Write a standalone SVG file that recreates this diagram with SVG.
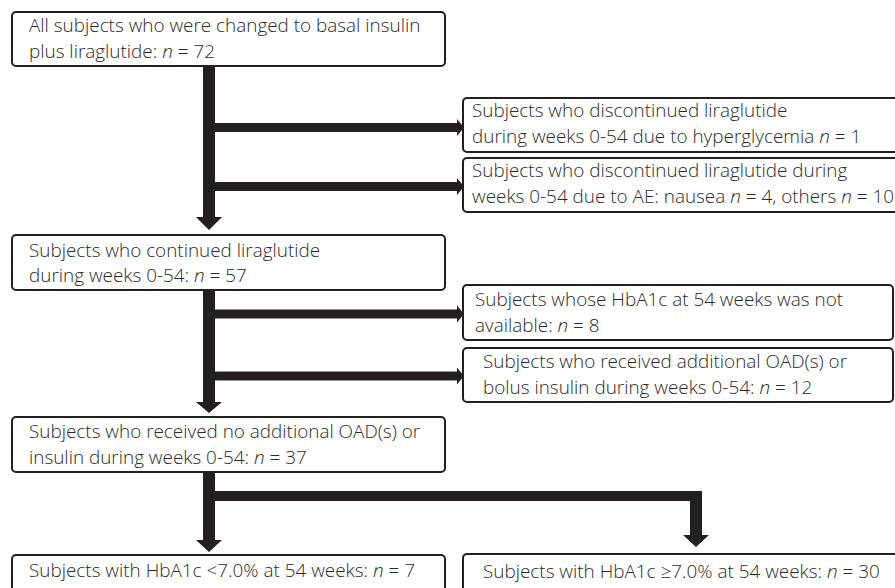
<svg xmlns="http://www.w3.org/2000/svg" width="895" height="588" viewBox="0 0 895 588">
<style>
.box{fill:#fff;stroke:#231f20;stroke-width:2}
.t{font-family:"Open Sans","Noto Sans","Liberation Sans",sans-serif;font-size:18.9px;font-weight:300;fill:#2a2a2a}
.i{font-style:italic}
.c{fill:#231f20}
</style>
<rect width="895" height="588" fill="#fff"/>
<g id="connectors">
<path class="c" d="M203,66H215V217H222L209,230L196,217H203Z"/>
<rect class="c" x="215" y="123" width="242" height="9"/>
<path class="c" d="M457,119L464,127.5L457,136Z"/>
<rect class="c" x="215" y="182" width="242" height="9"/>
<path class="c" d="M457,178L464,186.5L457,195Z"/>
<path class="c" d="M203,290H215V402H222L209,413L196,402H203Z"/>
<rect class="c" x="215" y="309.5" width="242" height="9"/>
<path class="c" d="M457,305.5L464,314L457,322.5Z"/>
<rect class="c" x="215" y="371.5" width="242" height="9"/>
<path class="c" d="M457,367.5L464,376L457,384.5Z"/>
<path class="c" d="M203,472H215V540H222L209,552L196,540H203Z"/>
<path class="c" d="M215,491H702V535H709L696,547L683,535H690V501H215Z"/>
</g>
<g id="n1">
<rect class="box" x="12" y="12" width="433" height="54" rx="4"/>
<text class="t" x="29" y="32">All subjects who were changed to basal insulin</text>
<text class="t" x="29" y="58">plus liraglutide: <tspan class="i">n</tspan> = 72</text>
</g>
<g id="n2">
<rect class="box" x="463" y="98" width="440" height="54" rx="4"/>
<text class="t" x="472" y="117">Subjects who discontinued liraglutide</text>
<text class="t" x="472" y="143">during weeks 0-54 due to hyperglycemia <tspan class="i">n</tspan> = 1</text>
</g>
<g id="n3">
<rect class="box" x="463" y="158" width="440" height="54" rx="4"/>
<text class="t" x="472" y="177">Subjects who discontinued liraglutide during</text>
<text class="t" x="472" y="203">weeks 0-54 due to AE: nausea <tspan class="i">n</tspan> = 4, others <tspan class="i">n</tspan> = 10</text>
</g>
<g id="n4">
<rect class="box" x="12" y="235" width="433" height="55" rx="4"/>
<text class="t" x="29" y="257">Subjects who continued liraglutide</text>
<text class="t" x="29" y="282">during weeks 0-54: <tspan class="i">n</tspan> = 57</text>
</g>
<g id="n5">
<rect class="box" x="463" y="285" width="430" height="55" rx="4"/>
<text class="t" x="475" y="306">Subjects whose HbA1c at 54 weeks was not</text>
<text class="t" x="475" y="332">available: <tspan class="i">n</tspan> = 8</text>
</g>
<g id="n6">
<rect class="box" x="463" y="348" width="430" height="54" rx="4"/>
<text class="t" x="483" y="368">Subjects who received additional OAD(s) or</text>
<text class="t" x="483" y="394">bolus insulin during weeks 0-54: <tspan class="i">n</tspan> = 12</text>
</g>
<g id="n7">
<rect class="box" x="12" y="417" width="433" height="55" rx="4"/>
<text class="t" x="29" y="438">Subjects who received no additional OAD(s) or</text>
<text class="t" x="29" y="464">insulin during weeks 0-54: <tspan class="i">n</tspan> = 37</text>
</g>
<g id="n8">
<rect class="box" x="12" y="555" width="433" height="50" rx="4"/>
<text class="t" x="29" y="577">Subjects with HbA1c &lt;7.0% at 54 weeks: <tspan class="i">n</tspan> = 7</text>
</g>
<g id="n9">
<rect class="box" x="463" y="554" width="440" height="50" rx="4"/>
<text class="t" x="483" y="578">Subjects with HbA1c ≥7.0% at 54 weeks: <tspan class="i">n</tspan> = 30</text>
</g>
</svg>
